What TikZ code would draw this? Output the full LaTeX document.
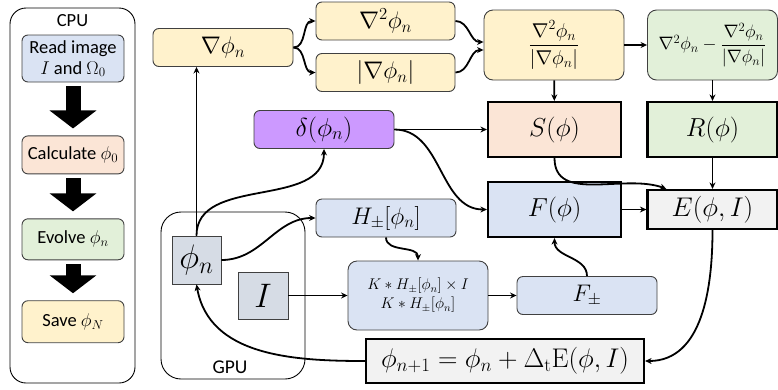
\RequirePackage{fix-cm}
\documentclass[tikz,border=0pt]{standalone}
\usepackage[no-math]{fontspec}
\setmainfont{Carlito}
\usepackage{amsmath}
\usetikzlibrary{arrows.meta,positioning,calc}
\definecolor{boxline}{RGB}{64,64,64}
\definecolor{yellowfill}{RGB}{255,242,204}
\definecolor{bluefill}{RGB}{218,227,243}
\definecolor{peachfill}{RGB}{251,229,214}
\definecolor{greenfill}{RGB}{226,240,217}
\definecolor{purplefill}{RGB}{204,153,255}
\definecolor{grayfill}{RGB}{242,242,242}
\definecolor{sqfill}{RGB}{214,220,229}
\newcommand{\fsbig}{\fontsize{24}{28}\selectfont}
\newcommand{\fshuge}{\fontsize{26}{30}\selectfont}
\newcommand{\fsmid}{\fontsize{20}{24}\selectfont}
\newcommand{\fssmall}{\fontsize{15.5}{19}\selectfont}
\newcommand{\fstext}{\fontsize{18.5}{21}\selectfont}

\begin{document}
\begin{tikzpicture}[x=1pt, y=1pt,
  every node/.style={inner sep=0pt},
  rbox/.style={draw=boxline, line width=0.9pt, rounded corners=6pt, minimum width=140pt, minimum height=38pt, align=center, font=\fsbig},
  tbox/.style={draw, line width=2.2pt, minimum width=133pt, minimum height=55pt, font=\fshuge},
  cpubox/.style={rbox, minimum width=102pt, font=\fstext},
  sqbox/.style={draw=boxline, line width=0.9pt, fill=sqfill, font=\fontsize{34}{37}\selectfont},
  conn/.style={-{Stealth[length=6.5pt,width=6pt]}, line width=1.8pt},
  bigarrow/.style={-{Triangle[width=46pt,length=18pt]}, line width=15pt, shorten <=4pt, shorten >=7pt}
]
\useasboundingbox (0,0) rectangle (778,-389);

% CPU side
\draw[line width=0.9pt, rounded corners=16pt] (10,-8) rectangle (135,-383);
\node[font=\fstext] (cpulabel) at (72.5,-21) {CPU};
\node[cpubox, fill=bluefill, minimum height=47pt] (read) at (73,-58.5) {Read image\\$I$ and $\Omega_0$};
\node[cpubox, fill=peachfill, below=53pt of read] (calcphi) {Calculate $\phi_0$};
\node[cpubox, fill=greenfill, minimum height=41pt, below=44pt of calcphi] (evolve) {Evolve $\phi_n$};
\node[cpubox, fill=yellowfill, minimum height=42pt, below=40pt of evolve] (save) {Save $\phi_N$};

\foreach \a/\b in {read/calcphi, calcphi/evolve, evolve/save}
  \draw[bigarrow] (\a) -- (\b);

% GPU side
\draw[line width=0.9pt, rounded corners=20pt] (161,-212) rectangle (305,-379);
\node[font=\fontsize{19.5}{22}\selectfont] (gpulabel) at (230,-367) {GPU};
\node[sqbox, minimum width=49pt, minimum height=48pt] (phin) at (196.5,-260) {$\phi_n$};
\node[sqbox, minimum width=50pt, minimum height=47pt] (Iimg) at (263,-295.5) {$I$};

% derivatives
\node[rbox, fill=yellowfill] (grad) at (223,-47.5) {$\nabla\phi_n$};
\node[rbox, fill=yellowfill, minimum width=139pt] (lap) at (385.5,-21) {$\nabla^2\phi_n$};
\node[rbox, fill=yellowfill, minimum width=139pt] (absg) at (385.5,-72.5) {$|\nabla\phi_n|$};
\node[rbox, fill=yellowfill, minimum height=70pt, rounded corners=9pt, font=\fsmid] (frac) at (554,-45) {$\dfrac{\nabla^2\phi_n}{|\nabla\phi_n|}$};
\node[rbox, fill=greenfill, minimum width=130pt, minimum height=70pt, rounded corners=9pt, font=\fontsize{18}{21}\selectfont] (diff) at (712.5,-45) {$\nabla^2\phi_n-\dfrac{\nabla^2\phi_n}{|\nabla\phi_n|}$};
\node[rbox, fill=purplefill, font=\fshuge] (delta) at (324,-129.5) {$\delta(\phi_n)$};

% energy terms
\node[tbox, fill=peachfill] (S) at (554.5,-129.5) {$S(\phi)$};
\node[tbox, fill=greenfill, minimum width=130pt] (R) at (712.5,-129.5) {$R(\phi)$};
\node[tbox, fill=bluefill] (F) at (554.5,-209.5) {$F(\phi)$};
\node[tbox, fill=grayfill, minimum width=130pt, minimum height=39pt, font=\fontsize{27}{30}\selectfont] (E) at (712.5,-209.5) {$E(\phi,I)$};

% region averages
\node[rbox, fill=bluefill] (Hpm) at (386,-218) {$H_{\pm}[\phi_n]$};
\node[rbox, fill=bluefill, minimum height=69pt, rounded corners=9pt, font=\fssmall] (K) at (418,-295.5) {$K*H_{\pm}[\phi_n]\times I$\\$K*H_{\pm}[\phi_n]$};
\node[rbox, fill=bluefill] (Fpm) at (587,-295.5) {$F_{\pm}$};

% update
\node[tbox, fill=grayfill, minimum width=278pt, minimum height=44pt, font=\fontsize{27}{30}\selectfont] (upd) at (505,-361) {$\phi_{n+1}=\phi_n+\Delta_{\mathrm{t}}\mathrm{E}(\phi,I)$};

\foreach \a/\b in {frac/diff, frac/S, diff/R, delta/S, F/E, R/E, Iimg/K, K/Fpm}
  \draw[conn] (\a) -- (\b);

\draw[conn] (grad.east) to[out=0,in=180] (lap.west);
\draw[conn] (grad.east) to[out=0,in=180] (absg.west);
\draw[conn] (lap.east) to[out=0,in=180] ([yshift=3pt]frac.west);
\draw[conn] (absg.east) to[out=0,in=180] ([yshift=-5pt]frac.west);
\draw[conn] (phin.north) -- (phin.north |- grad.south);
\draw[conn] (phin.north) to[out=90,in=-90] (delta.south);
\draw[conn] (phin.east) to[out=0,in=180] (Hpm.west);
\draw[conn] (delta.east) to[out=0,in=180] (F.west);
\draw[conn] (S.south) to[out=-90,in=160] ([xshift=20pt]E.north west);
\draw[conn] (Hpm.south) to[out=-90,in=90] (K.north);
\draw[conn] (Fpm.north) to[out=90,in=-90] (F.south);
\draw[conn] (E.south) to[out=-90,in=0] (upd.east);
\draw[conn] (upd.west) to[out=180,in=-80] (phin.south);
\end{tikzpicture}
\end{document}
